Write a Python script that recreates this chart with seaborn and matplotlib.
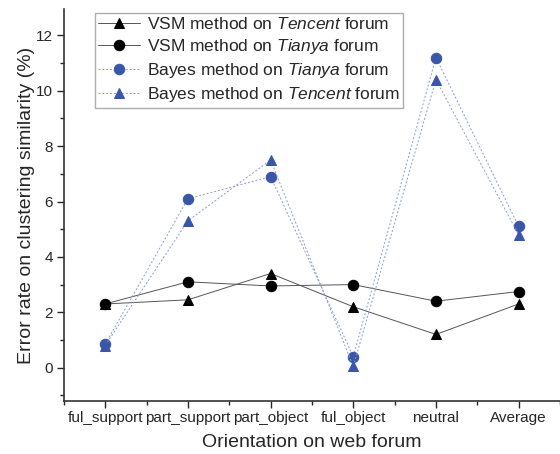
import matplotlib
matplotlib.use("Agg")
import matplotlib.pyplot as plt
import seaborn as sns
import numpy as np
import pandas as pd

categories = ["ful_support", "part_support", "part_object", "ful_object", "neutral", "Average"]
vsm_tencent = [2.3, 2.45, 3.4, 2.2, 1.2, 2.3]
vsm_tianya = [2.3, 3.1, 2.95, 3.0, 2.4, 2.75]
bayes_tianya = [0.85, 6.1, 6.9, 0.4, 11.2, 5.1]
bayes_tencent = [0.8, 5.3, 7.5, 0.05, 10.4, 4.8]

sns.set_style("ticks")
plt.rcParams["font.family"] = ["Liberation Sans", "DejaVu Sans"]
plt.rcParams["mathtext.fontset"] = "custom"
plt.rcParams["mathtext.rm"] = "Liberation Sans"
plt.rcParams["mathtext.it"] = "Liberation Sans:italic"

x = np.arange(len(categories))
blue = "#3a56a8"
blue_line = "#8a9bd6"

series = [
    ("VSM method on $\\it{Tencent}$ forum", vsm_tencent, "^", "black", "#555555", "-"),
    ("VSM method on $\\it{Tianya}$ forum", vsm_tianya, "o", "black", "#555555", "-"),
    ("Bayes method on $\\it{Tianya}$ forum", bayes_tianya, "o", blue, blue_line, (0, (2, 2))),
    ("Bayes method on $\\it{Tencent}$ forum", bayes_tencent, "^", blue, blue_line, (0, (2, 2))),
]

fig = plt.figure(figsize=(5.6, 4.54), dpi=100)
ax = fig.add_axes([0.114, 0.117, 0.886, 0.863])

for label, vals, mk, mc, lc, ls in series:
    df = pd.DataFrame({"x": x, "y": vals})
    sns.lineplot(data=df, x="x", y="y", ax=ax, sort=False, color=lc, linestyle=ls,
                 linewidth=0.7, marker=mk, markersize=7.5, markerfacecolor=mc,
                 markeredgecolor=mc, label=label)

ax.set_xlim(-0.5, 5.5)
ax.set_ylim(-1.2, 12.95)
ax.set_xticks(x)
ax.set_xticklabels(categories, fontsize=11)
ax.set_xticks(np.arange(-0.5, 5.6, 1.0), minor=True)
ax.set_yticks([0, 2, 4, 6, 8, 10, 12])
ax.set_yticks([-1, 1, 3, 5, 7, 9, 11], minor=True)
ax.tick_params(axis="y", labelsize=11, pad=3)
ax.tick_params(axis="x", pad=2.5)
ax.tick_params(which="major", length=5, width=1, direction="out")
ax.tick_params(which="minor", length=3, width=1, direction="out")
ax.set_xlabel("Orientation on web forum", fontsize=14)
ax.set_ylabel("Error rate on clustering similarity (%)", fontsize=14)
ax.xaxis.set_label_coords(0.5, -0.085)
ax.yaxis.set_label_coords(-0.058, 0.5)
sns.despine(ax=ax)
for s in ["left", "bottom"]:
    ax.spines[s].set_color("#333333")
    ax.spines[s].set_linewidth(1.2)

leg = ax.legend(loc="upper left", bbox_to_anchor=(0.0625, 0.99), borderaxespad=0,
                fontsize=12.5, frameon=True, fancybox=False, handlelength=2.4,
                handletextpad=0.4, labelspacing=0.28, borderpad=0.2)
leg.get_frame().set_edgecolor("#999999")
leg.get_frame().set_linewidth(1.0)

fig.savefig("out.png", dpi=100)
